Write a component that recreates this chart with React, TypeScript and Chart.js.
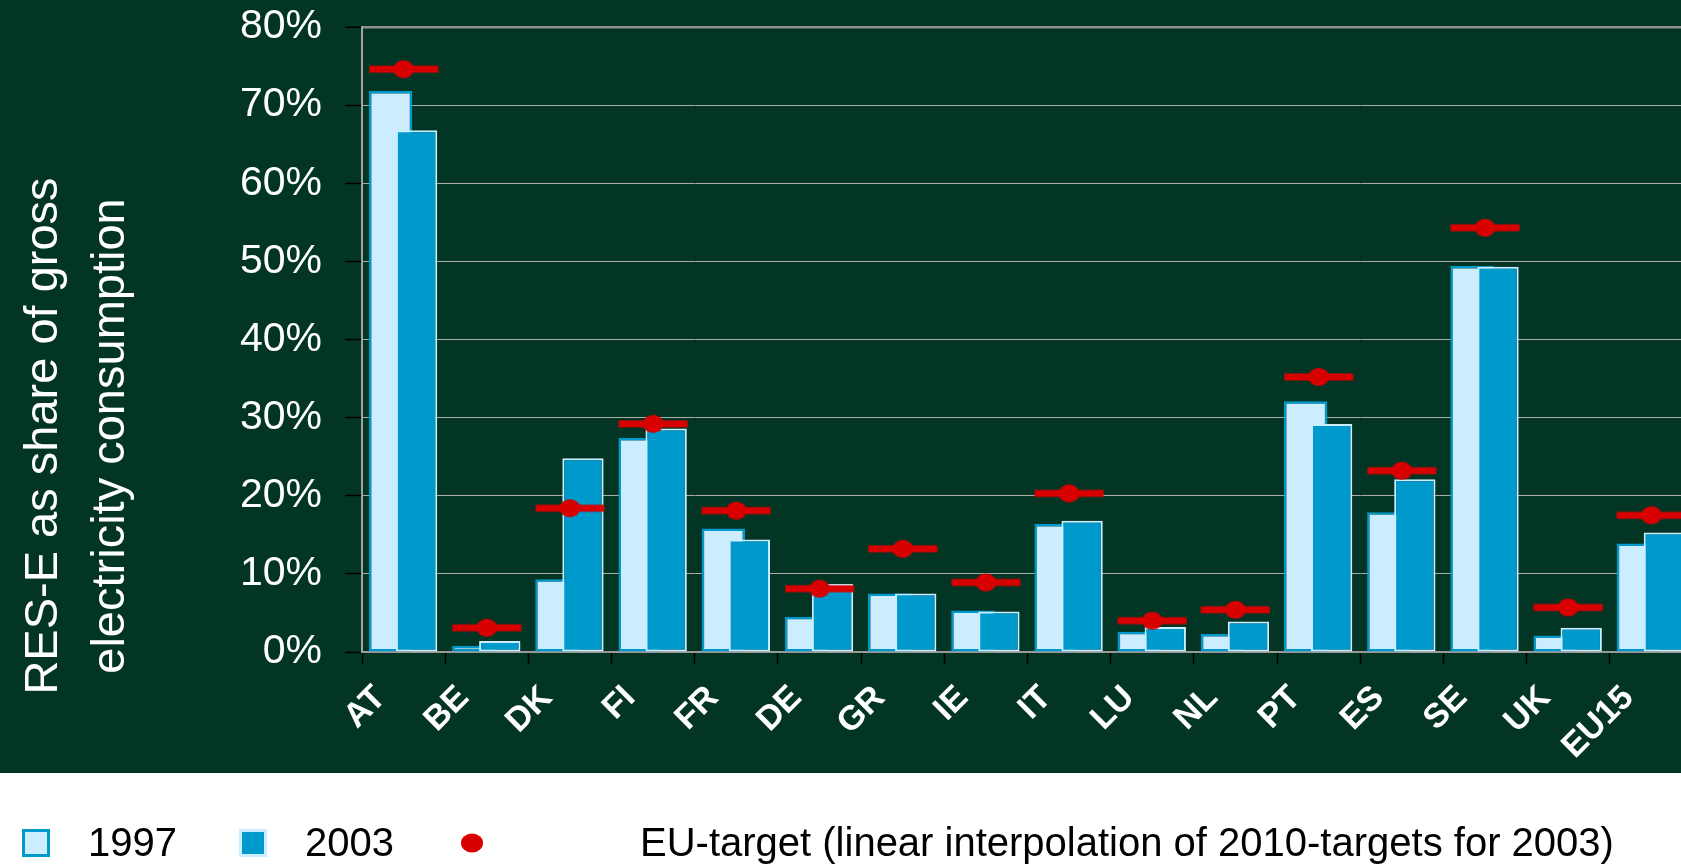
import React, { useEffect, useRef } from 'react';
import { Chart, registerables } from 'chart.js';

Chart.register(...registerables);

// ---------- data ----------
const categories = ['AT', 'BE', 'DK', 'FI', 'FR', 'DE', 'GR', 'IE', 'IT', 'LU', 'NL', 'PT', 'ES', 'SE', 'UK', 'EU15'];
const share1997 = [71.8, 0.8, 9.3, 27.4, 15.8, 4.5, 7.5, 5.3, 16.4, 2.6, 2.3, 32.1, 17.9, 49.4, 2.1, 13.9];
const share2003 = [66.8, 1.4, 24.8, 28.6, 14.4, 8.7, 7.5, 5.2, 16.8, 3.2, 3.9, 29.2, 22.1, 49.3, 3.1, 15.3];
const target2003 = [74.6, 3.1, 18.4, 29.2, 18.1, 8.1, 13.2, 8.9, 20.3, 4.0, 5.4, 35.2, 23.2, 54.3, 5.7, 17.5];
const seriesLabels = ['1997', '2003', 'EU-target (linear interpolation of 2010-targets for 2003)'];
const yTitleLines = ['RES-E as share of gross', 'electricity consumption'];
const yMin = 0;
const yMax = 80;
const yStep = 10;

// ---------- styles ----------
const FONT = "'Liberation Sans', Arial, Helvetica, sans-serif";
const BG = '#033525';
const LIGHT = '#CCECFF';
const BLUE = '#0099CC';
const RED = '#D80000';
const W = 1720;
const H = 868;
const GREEN_H = 773;

const bgPlugin = {
  id: 'bgPlugin',
  beforeDraw(chart: any) {
    const ctx = chart.ctx;
    ctx.save();
    ctx.fillStyle = '#ffffff';
    ctx.fillRect(0, 0, chart.width, chart.height);
    ctx.fillStyle = BG;
    ctx.fillRect(0, 0, chart.width, GREEN_H);
    ctx.restore();
  },
};

const orderPlugin = {
  id: 'orderPlugin',
  beforeDatasetsDraw(chart: any) {
    const metas = chart.getSortedVisibleDatasetMetas().slice().sort((a: any, b: any) => a.index - b.index);
    for (const m of metas) {
      if (typeof chart._drawDataset === 'function') chart._drawDataset(m);
      else m.controller.draw();
    }
    return false;
  },
};

const titlePlugin = {
  id: 'yTitlePlugin',
  afterDraw(chart: any) {
    const ctx = chart.ctx;
    const xs = [57, 124];
    ctx.save();
    ctx.fillStyle = '#ffffff';
    ctx.font = `47px ${FONT}`;
    ctx.textAlign = 'center';
    ctx.textBaseline = 'alphabetic';
    yTitleLines.forEach((line, i) => {
      ctx.save();
      ctx.translate(xs[i], 436);
      ctx.rotate(-Math.PI / 2);
      ctx.fillText(line, 0, 0);
      ctx.restore();
    });
    ctx.restore();
  },
};

const legendPlugin = {
  id: 'customLegend',
  afterDraw(chart: any) {
    const ctx = chart.ctx;
    const ds = chart.data.datasets;
    const cy = 843;
    ctx.save();
    ctx.font = `40px ${FONT}`;
    ctx.textBaseline = 'middle';
    ctx.textAlign = 'left';
    const boxes = [
      { x: 22, fill: ds[0].backgroundColor, stroke: ds[0].borderColor, tx: 88 },
      { x: 239, fill: ds[1].backgroundColor, stroke: ds[1].borderColor, tx: 305 },
    ];
    boxes.forEach((b, i) => {
      ctx.fillStyle = b.stroke;
      ctx.fillRect(b.x, cy - 14, 28, 28);
      ctx.fillStyle = b.fill;
      ctx.fillRect(b.x + 3, cy - 11, 22, 22);
      ctx.fillStyle = '#000';
      ctx.fillText(ds[i].label, b.tx, cy + 2);
    });
    ctx.fillStyle = RED;
    ctx.beginPath();
    ctx.ellipse(472, cy, 11, 9.5, 0, 0, Math.PI * 2);
    ctx.fill();
    ctx.fillStyle = '#000';
    ctx.fillText(ds[2].label, 640, cy + 2);
    ctx.restore();
  },
};

export default function App() {
  const ref = useRef<HTMLCanvasElement | null>(null);

  useEffect(() => {
    const canvas = ref.current;
    if (!canvas) return;
    const marker = document.createElement('canvas');
    marker.width = 70;
    marker.height = 20;
    const m = marker.getContext('2d')!;
    m.fillStyle = RED;
    m.fillRect(0.5, 6.5, 69, 7);
    m.beginPath();
    m.ellipse(35, 10, 10.5, 9, 0, 0, Math.PI * 2);
    m.fill();

    const chart = new Chart(canvas, {
      type: 'bar',
      data: {
        labels: categories,
        datasets: [
          {
            type: 'bar',
            label: seriesLabels[0],
            data: share1997,
            backgroundColor: LIGHT,
            borderColor: BLUE,
            borderWidth: 2.5,
            borderSkipped: false,
            categoryPercentage: 0.625,
            barPercentage: 1.67,
          } as any,
          {
            type: 'bar',
            label: seriesLabels[1],
            data: share2003,
            backgroundColor: BLUE,
            borderColor: LIGHT,
            borderWidth: 2,
            borderSkipped: false,
            categoryPercentage: 0.625,
            barPercentage: 1.59,
          } as any,
          {
            type: 'line',
            label: seriesLabels[2],
            data: target2003,
            showLine: false,
            pointStyle: marker,
            pointRadius: 10,
            pointHoverRadius: 10,
            backgroundColor: RED,
            borderColor: RED,
          } as any,
        ],
      },
      options: {
        responsive: false,
        animation: false,
        devicePixelRatio: 1,
        events: [],
        layout: { padding: { left: 0, top: 27, right: 27, bottom: H - GREEN_H } },
        plugins: {
          legend: { display: false },
          tooltip: { enabled: false },
          title: { display: false },
        },
        scales: {
          x: {
            offset: true,
            grid: {
              display: true,
              offset: true,
              drawOnChartArea: false,
              drawTicks: true,
              tickLength: 12,
              tickColor: '#000000',
              tickWidth: 1.5,
            },
            border: { display: true, color: '#9a9a9a', width: 2 },
            ticks: {
              color: '#ffffff',
              font: { family: FONT, size: 34, weight: 'bold' },
              minRotation: 45,
              maxRotation: 45,
              autoSkip: false,
              padding: 14,
              labelOffset: -23,
            },
            afterFit: (s: any) => {
              s.height = GREEN_H - 652;
              s.paddingLeft = 0;
              s.paddingRight = 0;
            },
          },
          y: {
            min: yMin,
            max: yMax,
            ticks: {
              stepSize: yStep,
              color: '#ffffff',
              font: { family: FONT, size: 41 },
              padding: 23,
              callback: (v: any) => `${v}%`,
            },
            grid: {
              color: (c: any) => (c.tick && c.tick.value === yMax ? '#8f8f8f' : '#a9aea9'),
              lineWidth: (c: any) => (c.tick && c.tick.value === yMax ? 2.5 : 1),
              tickLength: 17,
              tickColor: '#000000',
              tickWidth: 1.5,
            },
            border: { display: true, color: '#a3a3a3', width: 2 },
            afterFit: (s: any) => {
              s.width = 362;
              s.paddingTop = 0;
              s.paddingBottom = 0;
            },
          },
        },
      } as any,
      plugins: [bgPlugin, orderPlugin, titlePlugin, legendPlugin],
    });
    return () => chart.destroy();
  }, []);

  return (
    <div
      style={{
        position: 'fixed',
        left: 0,
        top: 0,
        width: 1681,
        height: 868,
        overflow: 'hidden',
        background: '#ffffff',
      }}
    >
      <canvas ref={ref} width={W} height={H} style={{ display: 'block', width: W, height: H }} />
    </div>
  );
}
